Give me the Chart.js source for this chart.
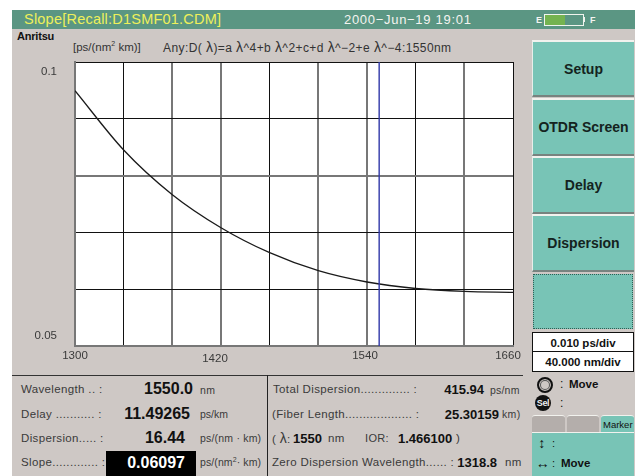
<!DOCTYPE html>
<html>
<head>
<meta charset="utf-8">
<script src="https://cdn.jsdelivr.net/npm/chart.js@4"></script>
<style>
html,body{margin:0;padding:0;background:#fff;width:640px;height:476px;overflow:hidden;font-family:"Liberation Sans",Arial,sans-serif;}
#panel{position:absolute;left:12px;top:10px;width:623px;height:466px;background:#cec8c5;}
#head{position:absolute;left:12px;top:10px;width:623px;height:19px;background:#5b9683;}
.t{position:absolute;white-space:nowrap;transform:translateY(-50%);color:#3a3a3a;font-size:11.5px;letter-spacing:.35px;}
.r{transform:translate(-100%,-50%);}
.c{transform:translate(-50%,-50%);}
.b{font-weight:bold;color:#111;letter-spacing:0;}
.v{font-weight:bold;color:#111;font-size:16px;letter-spacing:0;}
.m{font-weight:bold;color:#111;font-size:13px;letter-spacing:0;}
.btn{position:absolute;left:532px;width:102px;background:#78c4b6;border-top:2px solid #f2f2ee;border-left:1px solid #e8eeea;border-bottom:2px solid #77837f;box-sizing:border-box;display:flex;align-items:center;justify-content:center;font:bold 14px "Liberation Sans",Arial,sans-serif;color:#142320;}
.box{position:absolute;left:532px;width:102px;height:21px;background:#fff;border:1px solid #111;box-sizing:border-box;display:flex;align-items:center;justify-content:center;font:bold 11.5px "Liberation Sans",Arial,sans-serif;color:#111;}
.ln{position:absolute;background:#333;}
canvas{position:absolute;left:12px;top:30px;}
#wrap{position:absolute;left:12px;top:30px;width:515px;height:335px;}
#wrap canvas{left:0;top:0;}
.l{font-size:14px;}
</style>
</head>
<body>
<div id="panel"></div>
<div id="head"></div>
<div class="t" style="left:24px;top:19px;font-size:14.5px;color:#eef05a;letter-spacing:.22px;">Slope[Recall:D1SMF01.CDM]</div>
<div class="t" style="left:344px;top:19px;font-size:13px;color:#f4f4f0;letter-spacing:.7px;">2000−Jun−19 19:01</div>
<div class="t" style="left:536px;top:20px;font-size:9px;font-weight:bold;color:#f4f4f0;">E</div>
<div style="position:absolute;left:544px;top:14px;width:38px;height:10px;border:1px solid #f0f4ee;background:#5b9683;"><div style="width:20px;height:10px;background:#74b350;"></div></div>
<div style="position:absolute;left:583px;top:17px;width:2px;height:5px;background:#f0f4ee;"></div>
<div class="t" style="left:590px;top:20px;font-size:9px;font-weight:bold;color:#f4f4f0;">F</div>

<div class="t" style="left:17px;top:36px;font-size:11px;font-weight:bold;color:#111;letter-spacing:-.2px;">Anritsu</div>
<div class="t" style="left:73px;top:47px;font-size:11.5px;letter-spacing:0;color:#333;">[ps/(nm<sup style="font-size:7px;line-height:0;">2</sup> km)]</div>
<div class="t" style="left:163px;top:47px;font-size:12px;letter-spacing:.42px;color:#333;">Any:D( <span class="l">λ</span>)=a <span class="l">λ</span>^4+b <span class="l">λ</span>^2+c+d <span class="l">λ</span>^−2+e <span class="l">λ</span>^−4:1550nm</div>

<div id="wrap"><canvas id="c" width="515" height="335"></canvas></div>

<div class="btn" style="top:40px;height:57px;">Setup</div>
<div class="btn" style="top:98px;height:58px;">OTDR Screen</div>
<div class="btn" style="top:156px;height:58px;">Delay</div>
<div class="btn" style="top:214px;height:58px;">Dispersion</div>
<div style="position:absolute;left:533px;top:274px;width:100px;height:55px;background:#78c4b6;border:1px dotted #2f5e55;box-sizing:border-box;"></div>
<div class="box" style="top:332px;">0.010 ps/div</div>
<div class="box" style="top:351px;">40.000 nm/div</div>

<div style="position:absolute;left:537px;top:377px;width:12px;height:12px;border:2px solid #111;border-radius:50%;background:#cec8c5;box-shadow:inset 0 0 0 1px #cec8c5,inset 0 0 0 2px #555;"></div>
<div class="t" style="left:560px;top:384px;font-size:12px;color:#111;">:</div>
<div class="t b" style="left:569px;top:384px;font-size:11.5px;">Move</div>
<div class="t c" style="left:543px;top:403px;width:16px;height:16px;line-height:16px;border-radius:50%;background:#111;color:#eee;font-size:9px;font-weight:bold;text-align:center;letter-spacing:-.3px;">Sel</div>
<div class="t" style="left:560px;top:403px;font-size:12px;color:#111;">:</div>
<div style="position:absolute;left:532px;top:415px;width:33px;height:17px;background:#b4aeab;border-top:1px solid #f2f2ee;border-radius:3px 3px 0 0;box-sizing:border-box;"></div>
<div style="position:absolute;left:567px;top:415px;width:32px;height:17px;background:#b4aeab;border-top:1px solid #f2f2ee;border-radius:3px 3px 0 0;box-sizing:border-box;"></div>
<div style="position:absolute;left:601px;top:415px;width:33px;height:18px;background:#78c4b6;border-top:1px solid #f2f2ee;border-radius:3px 3px 0 0;box-sizing:border-box;"></div>
<div class="t" style="left:603px;top:424px;font-size:9.5px;color:#111;letter-spacing:0;">Marker</div>
<div style="position:absolute;left:532px;top:432px;width:102px;height:44px;background:#78c4b6;border-top:1px solid #f2f2ee;box-sizing:border-box;"></div>
<div class="t c" style="left:542px;top:443px;font-size:14px;font-weight:bold;color:#111;">↕</div>
<div class="t" style="left:552px;top:443px;font-size:11px;color:#111;">:</div>
<div class="t c" style="left:543px;top:463px;font-size:14px;font-weight:bold;color:#111;">↔</div>
<div class="t" style="left:552px;top:463px;font-size:11px;color:#111;">:</div>
<div class="t b" style="left:561px;top:463px;font-size:11.5px;">Move</div>

<div class="ln" style="left:12px;top:375px;width:511px;height:1px;"></div>
<div class="ln" style="left:267px;top:375px;width:1px;height:101px;background:#222;"></div>

<div class="t" style="left:21px;top:389px;">Wavelength .. :</div>
<div class="t v r" style="left:193px;top:389px;">1550.0</div>
<div class="t" style="left:200px;top:390px;font-size:10.5px;">nm</div>
<div class="t" style="left:21px;top:414px;">Delay ........... :</div>
<div class="t v r" style="left:190px;top:414px;">11.49265</div>
<div class="t" style="left:200px;top:414px;font-size:10.5px;letter-spacing:0;">ps/km</div>
<div class="t" style="left:21px;top:438px;">Dispersion..... :</div>
<div class="t v r" style="left:185px;top:438px;">16.44</div>
<div class="t" style="left:200px;top:438px;font-size:10.5px;letter-spacing:.2px;">ps/(nm · km)</div>
<div class="t" style="left:21px;top:462px;">Slope............. :</div>
<div style="position:absolute;left:106px;top:451px;width:90px;height:25px;background:#000;"></div>
<div class="t v r" style="left:185px;top:463px;color:#fff;">0.06097</div>
<div class="t" style="left:200px;top:462px;font-size:10.5px;letter-spacing:.1px;">ps/(nm<sup style="font-size:7px;line-height:0;">2</sup>· km)</div>

<div class="t" style="left:273px;top:389px;">Total Dispersion.............. :</div>
<div class="t m r" style="left:484px;top:389px;">415.94</div>
<div class="t" style="left:490px;top:390px;font-size:10.5px;letter-spacing:.2px;">ps/nm</div>
<div class="t" style="left:272px;top:414px;">(Fiber Length................... :</div>
<div class="t m r" style="left:499px;top:414px;">25.30159</div>
<div class="t" style="left:502px;top:414px;font-size:10.5px;">km)</div>
<div class="t" style="left:272px;top:438px;">( <span class="l">λ</span>:</div>
<div class="t m" style="left:293px;top:438px;">1550</div>
<div class="t" style="left:328px;top:438px;">nm</div>
<div class="t" style="left:365px;top:438px;font-size:11px;">IOR:</div>
<div class="t m" style="left:398px;top:438px;">1.466100</div>
<div class="t" style="left:456px;top:438px;">)</div>
<div class="t" style="left:272px;top:462px;">Zero Dispersion Wavelength...... :</div>
<div class="t m r" style="left:497px;top:462px;">1318.8</div>
<div class="t" style="left:505px;top:462px;">nm</div>

<script>
// Data
const wavelengths = [1300,1340,1380,1420,1460,1500,1540,1580,1620,1660];
const slopeValues = [0.09495,0.08451,0.07664,0.07083,0.06643,0.06326,0.06127,0.06012,0.05960,0.05944];
const markerWavelength = [1550,1550];
const markerValues = [0.05,0.1];
const xTicks = [1300,1340,1380,1420,1460,1500,1540,1580,1620,1660];
const yTicks = [0.05,0.06,0.07,0.08,0.09,0.1];
const xLabels = {1300:'1300',1420:'1420',1540:'1540',1660:'1660'};
const yLabels = {0.05:'0.05',0.1:'0.1'};

const greyX = new Set([1380,1420,1500,1540,1620]);
const greyY = new Set([0.08]);

const labelNudge = {
  id:'labelNudge',
  beforeDraw(chart){
    const yi = chart.scales.y.getLabelItems();
    yi.forEach(it=>{
      if(it.label==='0.1') it.options.translation[1]+=10;
      if(it.label==='0.05') it.options.translation[1]-=10;
    });
    const xi = chart.scales.x.getLabelItems();
    xi.forEach(it=>{
      if(it.label==='1420') {it.options.translation[0]-=6; it.options.translation[1]+=3;}
      if(it.label==='1540') it.options.translation[0]-=2;
      if(it.label==='1660') it.options.translation[0]-=5;
    });
  }
};
const whitePlot = {
  id:'whitePlot',
  beforeDraw(chart){
    const a = chart.chartArea, c = chart.ctx;
    c.save(); c.fillStyle='#fff'; c.fillRect(a.left,a.top,a.right-a.left,a.bottom-a.top); c.restore();
  }
};

new Chart(document.getElementById('c'),{
  type:'line',
  data:{datasets:[
    {label:'Marker',data:markerWavelength.map((x,i)=>({x,y:markerValues[i]})),borderColor:'#2f38a8',borderWidth:1.4,pointRadius:0,tension:0},
    {label:'Slope',data:wavelengths.map((x,i)=>({x,y:slopeValues[i]})),borderColor:'#1a1a1a',borderWidth:1.3,pointRadius:0,cubicInterpolationMode:'monotone'}
  ]},
  plugins:[whitePlot,labelNudge],
  options:{
    responsive:false,animation:false,
    layout:{padding:{left:0,right:14,top:32,bottom:0}},
    plugins:{legend:{display:false},tooltip:{enabled:false},title:{display:false}},
    scales:{
      x:{type:'linear',min:1300,max:1660,
        afterBuildTicks(s){s.ticks=xTicks.map(value=>({value}));},
        afterFit(s){s.height=19;s.paddingLeft=0;s.paddingRight=0;},
        ticks:{autoSkip:false,maxRotation:0,padding:3,color:'#3a3a3a',font:{family:'"Liberation Sans"',size:11.5},callback:v=>xLabels[v]||''},
        grid:{drawTicks:false,color:c=>greyX.has(c.tick&&c.tick.value)?'#777':'#111',lineWidth:c=>greyX.has(c.tick&&c.tick.value)?2:1},
        border:{color:'#777',width:2}
      },
      y:{type:'linear',min:0.05,max:0.1,
        afterBuildTicks(s){s.ticks=yTicks.map(value=>({value}));},
        afterFit(s){s.width=63;s.paddingTop=0;s.paddingBottom=0;},
        ticks:{autoSkip:false,padding:18,color:'#3a3a3a',font:{family:'"Liberation Sans"',size:11.5},callback:v=>yLabels[v]||''},
        grid:{drawTicks:false,color:c=>greyY.has(c.tick&&c.tick.value)?'#777':'#111',lineWidth:c=>greyY.has(c.tick&&c.tick.value)?2:1},
        border:{color:'#777',width:2}
      }
    }
  }
});
</script>
</body>
</html>
